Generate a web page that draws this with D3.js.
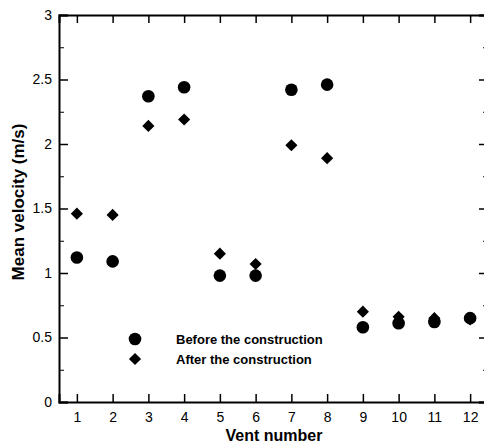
<!DOCTYPE html>
<html>
<head>
<meta charset="utf-8">
<script src="https://cdn.jsdelivr.net/npm/d3@7"></script>
<style>
  body { margin: 0; background: #fff; }
  svg { display: block; font-family: "Liberation Sans", Arial, sans-serif; }
</style>
</head>
<body>
<div id="chart"></div>
<script>
// Vent numbers and mean velocities
const vents = [1, 2, 3, 4, 5, 6, 7, 8, 9, 10, 11, 12];
const before = [1.12, 1.09, 2.37, 2.44, 0.98, 0.98, 2.42, 2.46, 0.58, 0.61, 0.62, 0.65];
const after = [1.46, 1.45, 2.14, 2.19, 1.15, 1.07, 1.99, 1.89, 0.70, 0.66, 0.65, 0.64];
const yTicks = [0, 0.5, 1, 1.5, 2, 2.5, 3];
const yMinor = [0.25, 0.75, 1.25, 1.75, 2.25, 2.75];

const W = 484, H = 446;
const margin = { top: 15, right: -4, bottom: 44, left: 59 };

const x = d3.scaleLinear().domain([0.5, 12.5]).range([margin.left, W - margin.right]);
const y = d3.scaleLinear().domain([0, 3]).range([H - margin.bottom, margin.top]);

const svg = d3.select("#chart").append("svg")
  .attr("width", W)
  .attr("height", H);

// bottom axis, ticks pointing inward
svg.append("g")
  .attr("transform", `translate(0,${y(0)})`)
  .style("font-size", "14px")
  .call(d3.axisBottom(x).tickValues(vents).tickSize(-8).tickPadding(10).tickFormat(d3.format("d")))
  .call(g => g.select(".domain").attr("stroke-width", 2))
  .call(g => g.selectAll(".tick line").attr("stroke-width", 1.5));

// top axis, no labels
svg.append("g")
  .attr("transform", `translate(0,${y(3)})`)
  .call(d3.axisTop(x).tickValues(vents).tickSize(-8).tickFormat(""))
  .call(g => g.select(".domain").attr("stroke-width", 2))
  .call(g => g.selectAll(".tick line").attr("stroke-width", 1.5));

// left axis
svg.append("g")
  .attr("transform", `translate(${x(0.5)},0)`)
  .style("font-size", "14px")
  .call(d3.axisLeft(y).tickValues(yTicks).tickSize(-9).tickPadding(7).tickFormat(d3.format("")))
  .call(g => g.select(".domain").attr("stroke-width", 2))
  .call(g => g.selectAll(".tick line").attr("stroke-width", 1.5));

svg.append("g")
  .attr("transform", `translate(${x(0.5)},0)`)
  .call(d3.axisLeft(y).tickValues(yMinor).tickSize(-5).tickFormat(""))
  .call(g => g.select(".domain").remove());

// right axis
svg.append("g")
  .attr("transform", `translate(${x(12.5)},0)`)
  .call(d3.axisRight(y).tickValues(yTicks).tickSize(-9).tickFormat(""))
  .call(g => g.select(".domain").attr("stroke-width", 2))
  .call(g => g.selectAll(".tick line").attr("stroke-width", 1.5));

svg.append("g")
  .attr("transform", `translate(${x(12.5)},0)`)
  .call(d3.axisRight(y).tickValues(yMinor).tickSize(-5).tickFormat(""))
  .call(g => g.select(".domain").remove());

svg.selectAll(".tick text").attr("fill", "#000");

// points
const circleSym = d3.symbol().type(d3.symbolCircle).size(Math.PI * 6.3 * 6.3);
const diamondSym = d3.symbol().type(d3.symbolSquare).size(8.6 * 8.6);

svg.append("g").selectAll("path")
  .data(vents)
  .join("path")
  .attr("transform", (d, i) => `translate(${x(d)},${y(before[i])})`)
  .attr("d", circleSym)
  .attr("fill", "#000");

svg.append("g").selectAll("path")
  .data(vents)
  .join("path")
  .attr("transform", (d, i) => `translate(${x(d)},${y(after[i])}) rotate(45)`)
  .attr("d", diamondSym)
  .attr("fill", "#000");

// legend
const legend = svg.append("g").attr("transform", "translate(135,339)");
const legendItems = [
  { label: "Before the construction", sym: circleSym, rot: 0 },
  { label: "After the construction", sym: diamondSym, rot: 45 }
];
legendItems.forEach((item, i) => {
  legend.append("path")
    .attr("transform", `translate(0,${i * 20}) rotate(${item.rot})`)
    .attr("d", item.sym)
    .attr("fill", "#000");
  legend.append("text")
    .attr("x", 41)
    .attr("y", i * 20)
    .attr("dy", "0.35em")
    .style("font-size", "13px")
    .style("font-weight", "bold")
    .text(item.label);
});

// axis titles
svg.append("text")
  .attr("x", 274)
  .attr("y", 441)
  .attr("text-anchor", "middle")
  .style("font-size", "16px")
  .style("font-weight", "bold")
  .text("Vent number");

svg.append("text")
  .attr("transform", "translate(24,202) rotate(-90)")
  .attr("text-anchor", "middle")
  .style("font-size", "17px")
  .style("font-weight", "bold")
  .text("Mean velocity (m/s)");
</script>
</body>
</html>
